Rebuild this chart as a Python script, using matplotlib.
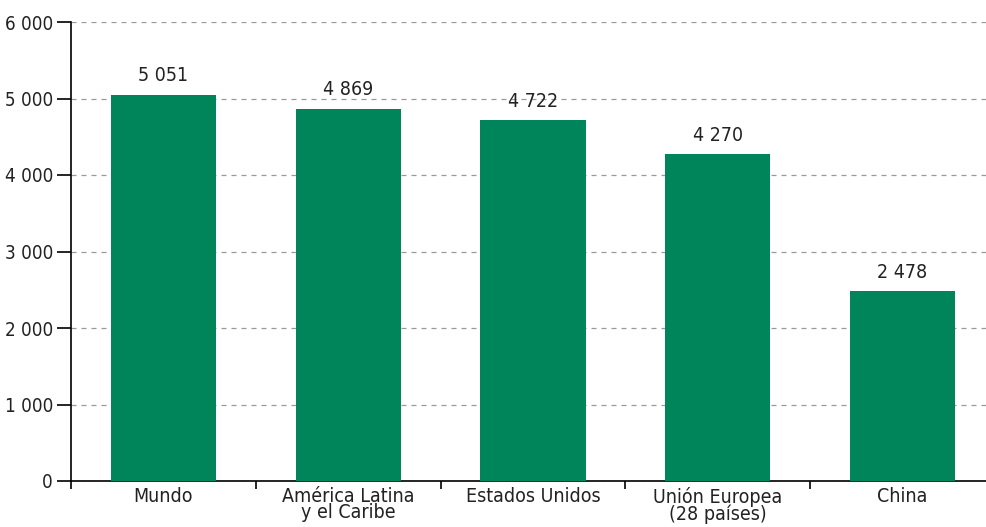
import matplotlib
matplotlib.use("Agg")
import matplotlib.pyplot as plt
from matplotlib.ticker import FixedLocator, FuncFormatter

plt.rcParams["font.family"] = ["DejaVu Sans"]
plt.rcParams["font.stretch"] = "condensed"

categories = ["Mundo", "América Latina\ny el Caribe", "Estados Unidos",
              "Unión Europea\n(28 países)", "China"]
values = [5051, 4869, 4722, 4270, 2478]
yticks = [0, 1000, 2000, 3000, 4000, 5000, 6000]

BAR_COLOR = "#00855A"


def fmt(v, _pos=None):
    return f"{int(v):,}".replace(",", " ")


fig = plt.figure(figsize=(9.87, 5.27), dpi=100)
ax = fig.add_axes([71 / 987, 1 - 481 / 527, 1 - 71 / 987, (481 - 22) / 527])

x = range(len(categories))
bars = ax.bar(x, values, width=0.57, color=BAR_COLOR, zorder=3)
for rect, v in zip(bars, values):
    ax.text(rect.get_x() + rect.get_width() / 2, v + 120, fmt(v),
            ha="center", va="bottom", fontsize=14, color="#222222")

ax.set_xlim(-0.5, 4.457)
ax.set_ylim(0, 6000)
ax.set_yticks(yticks)
ax.yaxis.set_major_formatter(FuncFormatter(fmt))
ax.yaxis.grid(True, linestyle=(0, (4, 4)), color="#999999", linewidth=0.9, zorder=0)

ax.set_xticks(list(x))
ax.set_xticklabels(categories, fontsize=14, linespacing=0.85, color="#222222")
ax.tick_params(axis="x", length=0, pad=4)
ax.xaxis.set_minor_locator(FixedLocator([i - 0.5 for i in range(len(categories) + 1)]))
ax.tick_params(axis="x", which="minor", length=6, width=1.2, direction="out")
ax.tick_params(axis="y", length=10, width=1.2, labelsize=13.5, pad=3,
               labelcolor="#222222")

for side in ("top", "right"):
    ax.spines[side].set_visible(False)
ax.spines["left"].set_linewidth(1.2)
ax.spines["bottom"].set_linewidth(1.2)

fig.savefig("out.png", dpi=100)
